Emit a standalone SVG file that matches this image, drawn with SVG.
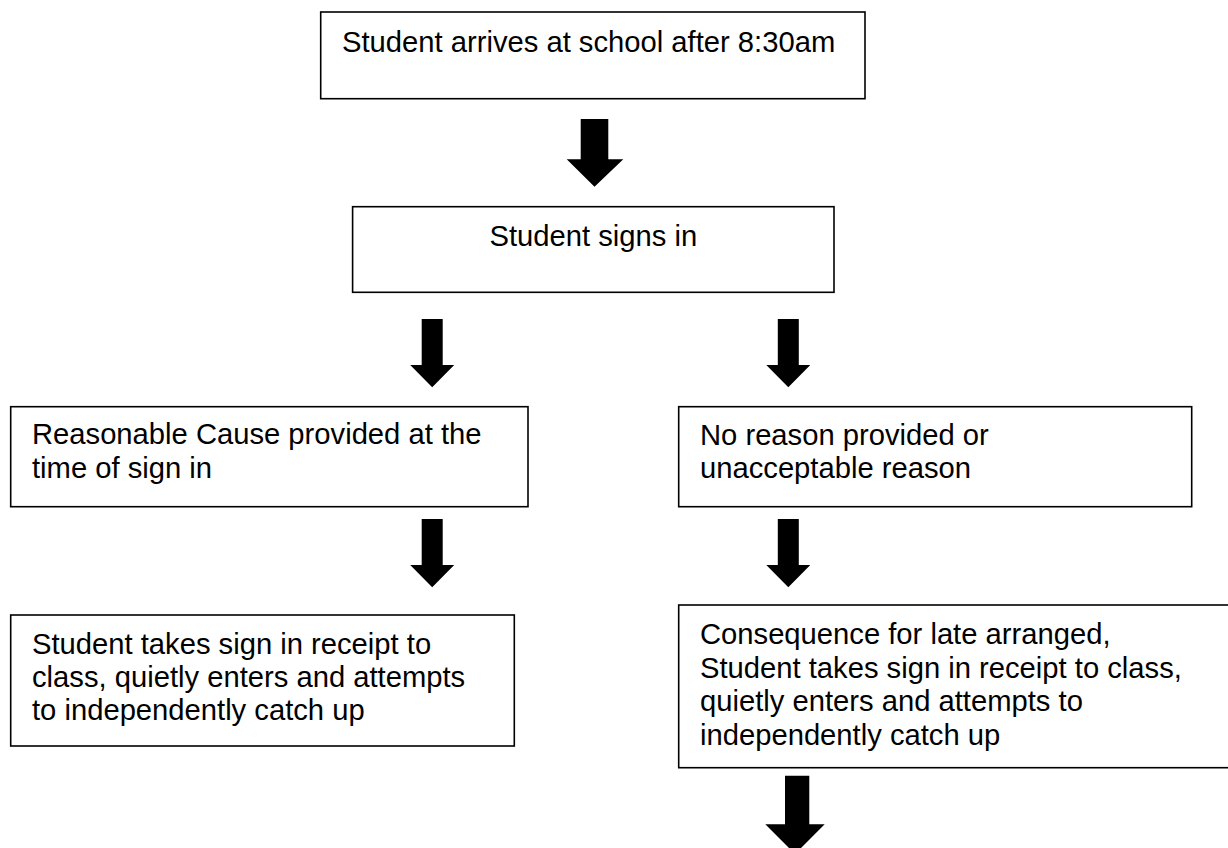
<svg xmlns="http://www.w3.org/2000/svg" xmlns:xlink="http://www.w3.org/1999/xlink" width="1228" height="848" viewBox="0 0 1228 848">
  <style>
    .box { fill: #ffffff; stroke: #000000; stroke-width: 1.6; }
    .lbl { font-family: "Liberation Sans", Arial, sans-serif; font-size: 29.2px; fill: #000000; }
    .arrow { fill: #000000; stroke: none; }
  </style>
  <defs>
    <path id="arrowSmall" d="M -10.5 0 H 10.5 V 46 H 22 L 0 68.3 L -22 46 H -10.5 Z"/>
  </defs>
  <rect width="1228" height="848" fill="#ffffff"/>

  <g id="connectors">
    <path class="arrow" d="M 580.7 119 H 608.3 V 159.3 H 623.3 L 594.5 186.7 L 566.7 159.3 H 580.7 Z"/>
    <use class="arrow" xlink:href="#arrowSmall" href="#arrowSmall" x="432.2" y="319"/>
    <use class="arrow" xlink:href="#arrowSmall" href="#arrowSmall" x="788.3" y="319"/>
    <use class="arrow" xlink:href="#arrowSmall" href="#arrowSmall" x="432.2" y="519"/>
    <use class="arrow" xlink:href="#arrowSmall" href="#arrowSmall" x="788.3" y="519"/>
    <path class="arrow" d="M 785 775.7 H 809.3 V 824.3 H 824.7 L 795 854 L 765.3 824.3 H 785 Z"/>
  </g>

  <g id="node-arrives">
    <rect class="box" x="320.7" y="12" width="544.3" height="86.7"/>
    <text class="lbl" x="342" y="51.7">Student arrives at school after 8:30am</text>
  </g>

  <g id="node-signs-in">
    <rect class="box" x="352.6" y="206.7" width="481.4" height="85.6"/>
    <text class="lbl" x="593.3" y="246" text-anchor="middle">Student signs in</text>
  </g>

  <g id="node-reasonable">
    <rect class="box" x="10.7" y="406.7" width="517.3" height="100"/>
    <text class="lbl" x="32" y="444.4">Reasonable Cause provided at the</text>
    <text class="lbl" x="32" y="478.2">time of sign in</text>
  </g>

  <g id="node-no-reason">
    <rect class="box" x="678.7" y="406.7" width="513" height="100"/>
    <text class="lbl" x="700" y="444.6">No reason provided or</text>
    <text class="lbl" x="700" y="478.2">unacceptable reason</text>
  </g>

  <g id="node-catch-up">
    <rect class="box" x="10.7" y="615" width="503.6" height="131"/>
    <text class="lbl" x="32" y="653.5">Student takes sign in receipt to</text>
    <text class="lbl" x="32" y="687">class, quietly enters and attempts</text>
    <text class="lbl" x="32" y="720">to independently catch up</text>
  </g>

  <g id="node-consequence">
    <rect class="box" x="678.7" y="605" width="556" height="162.7"/>
    <text class="lbl" x="700" y="644">Consequence for late arranged,</text>
    <text class="lbl" x="700" y="677.5">Student takes sign in receipt to class,</text>
    <text class="lbl" x="700" y="711">quietly enters and attempts to</text>
    <text class="lbl" x="700" y="744.5">independently catch up</text>
  </g>
</svg>
